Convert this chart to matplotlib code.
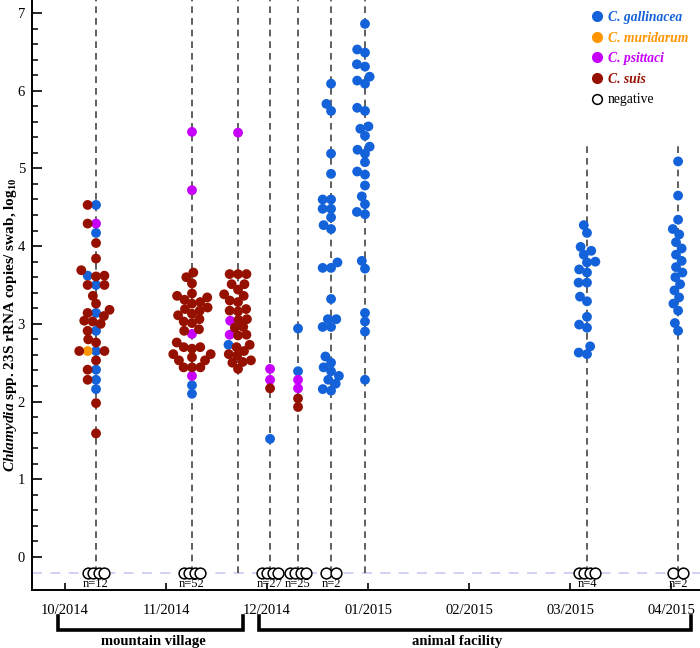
import numpy as np
import matplotlib.pyplot as plt
from matplotlib.lines import Line2D
from matplotlib.ticker import FixedLocator

plt.rcParams['font.family'] = ['Liberation Serif', 'DejaVu Serif']
plt.rcParams['mathtext.fontset'] = 'custom'
plt.rcParams['mathtext.rm'] = 'Liberation Serif:bold'
plt.rcParams['mathtext.it'] = 'Liberation Serif:italic:bold'
plt.rcParams['mathtext.bf'] = 'Liberation Serif:bold'

# sampling occasions, x in months since 10/2014
months = ['10/2014', '11/2014', '12/2014', '01/2015', '02/2015', '03/2015', '04/2015']
sample_x = [0.307, 1.257, 1.713, 2.03, 2.307, 2.634, 2.97, 5.168, 6.07]

# log10 copies per swab, by sampling and species
gallinacea = [
    [4.53, 4.17, 3.62, 3.50, 3.14, 2.91, 2.65, 2.41, 2.28, 2.16],
    [2.21, 2.10],
    [2.73],
    [1.52],
    [2.94, 2.39],
    [6.09, 5.83, 5.74, 5.19, 4.93, 4.60, 4.60, 4.48, 4.48, 4.37, 4.27, 4.22, 3.79, 3.72, 3.72,
     3.32, 3.06, 3.06, 2.96, 2.96, 2.58, 2.50, 2.44, 2.39, 2.33, 2.28, 2.23, 2.16, 2.14],
    [6.86, 6.53, 6.49, 6.34, 6.31, 6.18, 6.13, 6.09, 5.78, 5.74, 5.54, 5.51, 5.42, 5.28, 5.24,
     5.19, 5.08, 4.96, 4.92, 4.78, 4.64, 4.54, 4.44, 4.41, 3.81, 3.71, 3.14, 3.03, 2.90, 2.28],
    [4.27, 4.17, 3.99, 3.94, 3.89, 3.80, 3.79, 3.70, 3.66, 3.53, 3.53, 3.35, 3.29, 3.09, 2.99,
     2.95, 2.71, 2.63, 2.61],
    [5.09, 4.65, 4.34, 4.22, 4.15, 4.05, 3.97, 3.89, 3.81, 3.73, 3.66, 3.60, 3.51, 3.43, 3.34,
     3.26, 3.17, 3.01, 2.91],
]
muridarum = [[2.65], [], [], [], [], [], [], [], []]
psittaci = [[4.29], [5.47, 4.72, 2.87, 2.33], [5.46, 3.04, 2.86], [2.42, 2.28], [2.28, 2.17],
            [], [], [], []]
suis = [
    [4.53, 4.29, 4.04, 3.84, 3.69, 3.62, 3.61, 3.50, 3.50, 3.36, 3.26, 3.18, 3.14, 3.10, 3.04,
     3.03, 3.00, 2.91, 2.80, 2.76, 2.65, 2.65, 2.53, 2.41, 2.28, 1.98, 1.59],
    [3.66, 3.60, 3.52, 3.39, 3.36, 3.34, 3.31, 3.28, 3.26, 3.21, 3.19, 3.17, 3.13, 3.11, 3.06,
     3.03, 3.01, 2.93, 2.91, 2.76, 2.70, 2.70, 2.68, 2.61, 2.61, 2.57, 2.53, 2.53, 2.44, 2.44, 2.44],
    [3.64, 3.64, 3.64, 3.51, 3.51, 3.44, 3.38, 3.36, 3.30, 3.28, 3.19, 3.17, 3.16, 3.06, 3.05,
     2.96, 2.95, 2.86, 2.85, 2.73, 2.70, 2.65, 2.61, 2.59, 2.53, 2.51, 2.50, 2.42],
    [2.17],
    [2.04, 1.93],
    [], [], [], [],
]
# negative swabs per sampling (None = no negatives drawn)
n_negative = [12, 52, None, 27, 25, 2, None, 4, 2]
line_top = [None, None, None, None, None, None, None, 5.3, 5.3]

species = ['C. gallinacea', 'C. muridarum', 'C. psittaci', 'C. suis']
colors = ['#1462d9', '#ff9500', '#c600fb', '#961000']
series = [gallinacea, muridarum, psittaci, suis]

W, H = 700, 648
fig = plt.figure(figsize=(W / 100, H / 100), dpi=100)
ax = fig.add_axes([32 / W, 58 / H, 668 / W, 590 / H])
xmin, xmax = -0.327, 6.287
ymin, ymax = -0.425, 7.167
ax.set_xlim(xmin, xmax)
ax.set_ylim(ymin, ymax)
px_x = 668 / (xmax - xmin)
px_y = 590 / (ymax - ymin)
neg_y = -0.2


def swarm(vals, d=8.4):
    # simple beeswarm in pixel space, returns x offsets (px)
    vals = np.asarray(vals)
    off = np.zeros(len(vals))
    placed = []
    for i in np.argsort(vals, kind='stable'):
        y = vals[i] * px_y
        cands = [0.0]
        for (px, py) in placed:
            dy = y - py
            if abs(dy) < d:
                dx = np.sqrt(d * d - dy * dy)
                cands += [px - dx, px + dx]
        cands.sort(key=lambda c: (abs(c), c))
        for c in cands:
            if all((c - px) ** 2 + (y - py) ** 2 >= d * d - 1e-6 for (px, py) in placed):
                off[i] = c
                placed.append((c, y))
                break
    return off


for g, xg in enumerate(sample_x):
    top = line_top[g] if line_top[g] is not None else ymax
    ax.plot([xg, xg], [neg_y, top], color='#444444', lw=1.2, dashes=(4, 3), zorder=1)

    vals, cols = [], []
    for s, c in zip(series, colors):
        vals += s[g]
        cols += [c] * len(s[g])
    if vals:
        off = swarm(vals)
        ax.scatter(xg + off / px_x, vals, s=50, c=cols, linewidths=0, zorder=3)

    n = n_negative[g]
    if n is not None:
        k = 4 if n >= 4 else n
        step = 5.2 if k > 2 else 10.0
        offs = (np.arange(k) - (k - 1) / 2) * step
        for o in offs:
            ax.scatter([xg + o / px_x], [neg_y], s=60, facecolors='white',
                       edgecolors='black', linewidths=1.1, zorder=4)
        ax.text(xg, neg_y - 0.15, 'n=%d' % n, ha='center', va='center', fontsize=9)

ax.axhline(neg_y, color='#c8caf2', lw=1.2, dashes=(6, 5), zorder=0)

# axes styling
for sp in ['top', 'right']:
    ax.spines[sp].set_visible(False)
ax.spines['left'].set_linewidth(1.4)
ax.spines['bottom'].set_linewidth(1.4)
ax.set_yticks(range(0, 8))
ax.yaxis.set_minor_locator(FixedLocator([v / 5 for v in range(1, 35) if v % 5]))
ax.set_xticks(range(len(months)))
ax.set_xticklabels(months)
ax.tick_params(axis='both', which='major', direction='in', labelsize=10.5, width=1.2)
ax.tick_params(axis='y', which='major', length=7, pad=5)
ax.tick_params(axis='y', which='minor', direction='in', length=4, width=1.1)
ax.tick_params(axis='x', which='major', length=5, pad=10)

ax.set_ylabel(r'$\mathit{Chlamydia}$ spp. 23S rRNA copies/ swab, log$_{10}$',
              fontsize=11, fontweight='bold')
ax.yaxis.set_label_coords(-0.0195, 0.45)

# legend
handles = [Line2D([], [], ls='', marker='o', ms=7, mfc=c, mec=c) for c in colors]
handles.append(Line2D([], [], ls='', marker='o', ms=7, mfc='white', mec='black', mew=1.1))
leg = ax.legend(handles, species + ['negative'], loc='upper left',
                bbox_to_anchor=((592 - 32) / 668, 1 - 11 / 590), frameon=False,
                handlelength=0.8, handletextpad=0.35, labelspacing=0.56, borderpad=0,
                borderaxespad=0, prop={'size': 9.8})
for t, c in zip(leg.get_texts()[:4], colors):
    t.set_color(c)
    t.set_fontweight('bold')
    t.set_fontstyle('italic')


# study site brackets under the axis
def bracket(x0, x1, label, tx):
    y0, y1 = 1 - 616 / H, 1 - 630 / H
    fig.add_artist(Line2D([x0 / W, x0 / W, x1 / W, x1 / W], [y0, y1, y1, y0],
                          transform=fig.transFigure, color='black', lw=2.6,
                          solid_joinstyle='miter'))
    fig.text(tx / W, 1 - 641 / H, label, ha='center', va='center',
             fontsize=10.5, fontweight='bold')


bracket(58, 243, 'mountain village', 153)
bracket(259, 691, 'animal facility', 457)

fig.savefig('out.png', dpi=100)
